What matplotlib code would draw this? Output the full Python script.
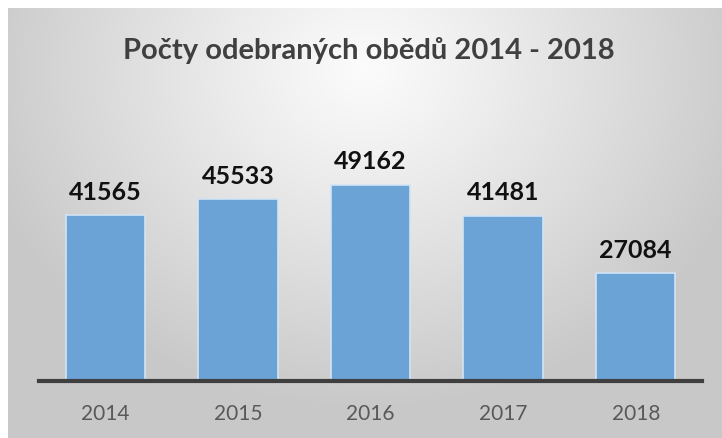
import numpy as np
import matplotlib
matplotlib.use("Agg")
import matplotlib.pyplot as plt

# Chart data
years = ["2014", "2015", "2016", "2017", "2018"]
meals = [41565, 45533, 49162, 41481, 27084]
title = "Počty odebraných obědů 2014 - 2018"

W, H = 722, 439
fig = plt.figure(figsize=(W / 100, H / 100), dpi=100)
fig.patch.set_facecolor("white")

# Radial grey background (chart area, small white margin left/top)
bg_ax = fig.add_axes([8 / W, 0, 1 - 8 / W, (H - 9) / H])
bg_ax.set_axis_off()
xx, yy = np.meshgrid(np.arange(8, W), np.arange(9, H))
d = np.sqrt(((xx - 365) / 400.0) ** 2 + ((yy - 70) / 340.0) ** 2)
d = np.clip(d, 0, 1)
shade = 0.985 - 0.20 * d ** 1.1
bg_ax.imshow(np.dstack([shade] * 3), aspect="auto", interpolation="bilinear")

# Main axes: x axis line at y=382px
ax = fig.add_axes([39 / W, (H - 382) / H, 663 / W, 0.4995])
ax.patch.set_alpha(0)
x = np.arange(len(years))
bars = ax.bar(x, meals, width=0.6, color="#6ba3d7", edgecolor="#d2e4f4", linewidth=1.2, zorder=2)
ax.set_xlim(-0.5, len(years) - 0.5)
ax.set_ylim(0, 55000)

for s in ["top", "right", "left"]:
    ax.spines[s].set_visible(False)
ax.spines["bottom"].set_color("#3f3f3f")
ax.spines["bottom"].set_linewidth(3)
ax.spines["bottom"].set_zorder(3)
ax.set_yticks([])
ax.set_xticks(x)
ax.set_xticklabels(years, fontsize=15, color="#595959", family="Lato")
ax.tick_params(axis="x", length=0, pad=16)

for xi, v in zip(x, meals):
    ax.annotate(str(v), (xi, v), xytext=(0, 9), textcoords="offset points",
                ha="center", va="bottom", fontsize=18, fontweight="bold",
                family="Lato", color="#111111")

fig.text(369 / W, 1 - 51 / H, title, ha="center", va="center", fontsize=21,
         fontweight="bold", family="Lato", color="#404040")

fig.savefig("out.png", dpi=100)
